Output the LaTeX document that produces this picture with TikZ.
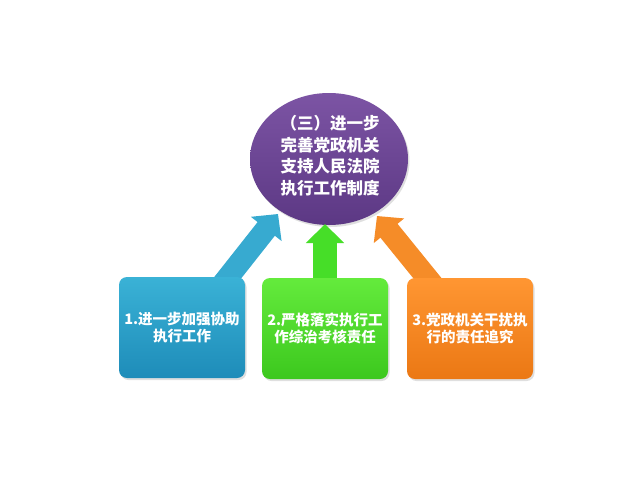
\documentclass[tikz,border=0pt]{standalone}
\usepackage{fontspec}
\newfontfamily\cjk{Noto Sans CJK SC}
\usetikzlibrary{shapes.geometric,arrows.meta,shadows}
\definecolor{purpT}{RGB}{124,84,164}
\definecolor{purpB}{RGB}{92,56,132}
\definecolor{blueT}{RGB}{58,178,214}
\definecolor{blueB}{RGB}{30,140,185}
\definecolor{greenT}{RGB}{100,235,60}
\definecolor{greenB}{RGB}{60,200,30}
\definecolor{orangeT}{RGB}{255,150,50}
\definecolor{orangeB}{RGB}{235,120,20}
\definecolor{arrBlue}{RGB}{55,170,208}
\definecolor{arrGreen}{RGB}{70,222,40}
\definecolor{arrOrange}{RGB}{245,140,40}
\tikzset{
  box/.style={rounded corners=8pt, minimum width=126pt, minimum height=101pt,
    inner sep=0pt, align=center, text=white, font=\cjk\bfseries\fontsize{14.5}{17.5}\selectfont,
    drop shadow={opacity=0.25, shadow xshift=1.5pt, shadow yshift=-2pt}},
}
\begin{document}
\begin{tikzpicture}[x=1pt,y=-1pt]
\useasboundingbox[fill=white] (0,0) rectangle (640,480);
% ellipse
\node[ellipse, minimum width=158pt, minimum height=132pt, inner sep=0pt,
  top color=purpT, bottom color=purpB,
  drop shadow={opacity=0.25, shadow xshift=1.5pt, shadow yshift=-2pt}]
  (top) at (329,159) {};
\node[align=center, text=white, inner sep=0pt,
  font=\cjk\bfseries\fontsize{16.5}{21.5}\selectfont]
  (toptext) at (330,155.5) {（三）进一步\\完善党政机关\\支持人民法院\\执行工作制度};
% arrow endpoints
\coordinate (t1) at (278,214);
\coordinate (t2) at (325,224);
\coordinate (t3) at (377,216);
\coordinate (s1) at (218,290);
\coordinate (s2) at (325,290);
\coordinate (s3) at (437,290);
% arrows
\draw[arrBlue, line width=22pt, -{Triangle[width=38pt,length=19pt]}] (s1) -- (t1);
\draw[arrGreen, line width=24pt, -{Triangle[width=37pt,length=19pt]}] (s2) -- (t2);
\draw[arrOrange, line width=22pt, -{Triangle[width=38pt,length=19pt]}] (s3) -- (t3);
% boxes
\node[box, top color=blueT, bottom color=blueB] (b1) at (182,327.5) {1.进一步加强协助\\执行工作};
\node[box, top color=greenT, bottom color=greenB] (b2) at (325,328.5) {2.严格落实执行工\\作综治考核责任};
\node[box, top color=orangeT, bottom color=orangeB] (b3) at (470,328.5) {3.党政机关干扰执\\行的责任追究};
\end{tikzpicture}
\end{document}
